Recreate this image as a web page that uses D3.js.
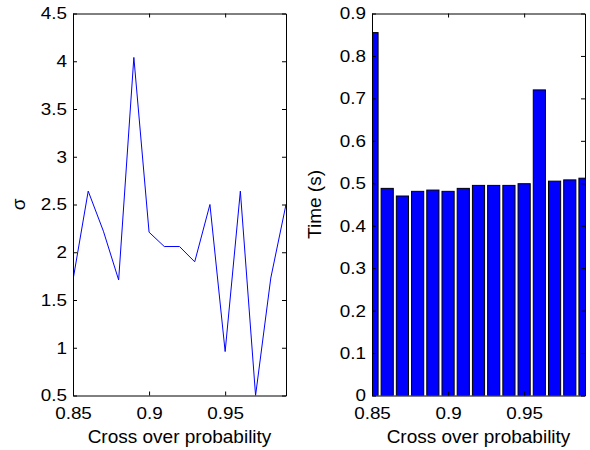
<!DOCTYPE html>
<html>
<head>
<meta charset="utf-8">
<script src="https://cdn.jsdelivr.net/npm/d3@7"></script>
<style>
  html, body { margin: 0; padding: 0; background: #fff; }
  svg { display: block; }
  text { font-family: Arial, "Liberation Sans", sans-serif; fill: #000; }
  /* tick numbers are set slightly wide */
  .xaxis text { transform-box: fill-box; transform-origin: center; transform: scaleX(1.11); }
  .yaxis text { transform-box: fill-box; transform-origin: right center; transform: scaleX(1.11); }
</style>
</head>
<body>
<svg id="chart" width="590" height="450"></svg>
<script>
// Crossover probabilities tested
const crossover = [0.85, 0.86, 0.87, 0.88, 0.89, 0.90, 0.91, 0.92, 0.93, 0.94, 0.95, 0.96, 0.97, 0.98, 0.99];
// Standard deviation of the result for each probability
const sigma = [1.71, 2.64, 2.22, 1.71, 4.04, 2.21, 2.06, 2.06, 1.90, 2.50, 0.96, 2.64, 0.50, 1.73, 2.50];
// Run time in seconds for each probability
const runTime = [0.855, 0.488, 0.470, 0.481, 0.484, 0.481, 0.488, 0.495, 0.495, 0.495, 0.499, 0.720, 0.505, 0.508, 0.512];

// Tick values
const xTicks = [0.85, 0.9, 0.95];
const sigmaTicks = [0.5, 1, 1.5, 2, 2.5, 3, 3.5, 4, 4.5];
const timeTicks = [0, 0.1, 0.2, 0.3, 0.4, 0.5, 0.6, 0.7, 0.8, 0.9];

const xLabel = "Cross over probability";
const sigmaLabel = "\u03c3";
const timeLabel = "Time (s)";

const svg = d3.select("#chart");
const tickFont = 17;
const labelFont = 19;
const plotTop = 13.5, plotBottom = 395.5;

function panel(id, left, right, yDomain, yTicks, yLabel, yLabelX) {
  const g = svg.append("g").attr("id", id);
  const x = d3.scaleLinear().domain([0.85, 0.99]).range([left, right]);
  const y = d3.scaleLinear().domain(yDomain).range([plotBottom, plotTop]);

  g.append("clipPath").attr("id", id + "-clip")
    .append("rect")
    .attr("x", left).attr("y", plotTop)
    .attr("width", right - left).attr("height", plotBottom - plotTop);

  const plot = g.append("g").attr("clip-path", `url(#${id}-clip)`);

  const fmt = d => String(d);
  const styleAxis = sel => {
    sel.selectAll("path.domain").attr("stroke", "#000").attr("stroke-width", 1);
    sel.selectAll(".tick line").attr("stroke", "#000").attr("stroke-width", 1);
    sel.selectAll("text").attr("font-size", tickFont).attr("font-family", "Arial, 'Liberation Sans', sans-serif").attr("fill", "#000");
  };

  return { g, x, y, plot, finish: () => {
    g.append("g").attr("class", "xaxis").attr("transform", `translate(0,${plotBottom})`)
      .call(d3.axisBottom(x).tickValues(xTicks).tickFormat(fmt).tickSizeInner(-4).tickSizeOuter(0).tickPadding(11))
      .call(styleAxis);
    g.append("g").attr("transform", `translate(0,${plotTop})`)
      .call(d3.axisTop(x).tickValues(xTicks).tickFormat("").tickSizeInner(-4).tickSizeOuter(0))
      .call(styleAxis);
    g.append("g").attr("class", "yaxis").attr("transform", `translate(${left},0)`)
      .call(d3.axisLeft(y).tickValues(yTicks).tickFormat(fmt).tickSizeInner(-4).tickSizeOuter(0).tickPadding(6))
      .call(styleAxis);
    g.append("g").attr("transform", `translate(${right},0)`)
      .call(d3.axisRight(y).tickValues(yTicks).tickFormat("").tickSizeInner(-4).tickSizeOuter(0))
      .call(styleAxis);

    g.append("text")
      .attr("x", (left + right) / 2).attr("y", 443)
      .attr("text-anchor", "middle").attr("font-size", labelFont)
      .text(xLabel);
    g.append("text")
      .attr("transform", `translate(${yLabelX},${(plotTop + plotBottom) / 2}) rotate(-90)`)
      .attr("text-anchor", "middle").attr("font-size", labelFont)
      .text(yLabel);
  }};
}

// Left: sigma line
const p1 = panel("sigma", 73, 286, [0.5, 4.5], sigmaTicks, sigmaLabel, 25);
p1.plot.append("path")
  .datum(crossover.map((c, i) => [c, sigma[i]]))
  .attr("fill", "none")
  .attr("stroke", "#0000ff")
  .attr("stroke-width", 1)
  .attr("d", d3.line().x(d => p1.x(d[0])).y(d => p1.y(d[1])));
p1.finish();

// Right: run time bars
const p2 = panel("time", 372, 585, [0, 0.9], timeTicks, timeLabel, 321);
const barW = (p2.x(0.86) - p2.x(0.85)) * 0.8;
p2.plot.selectAll("rect.bar")
  .data(crossover.map((c, i) => ({ c, t: runTime[i] })))
  .join("rect")
  .attr("class", "bar")
  .attr("x", d => p2.x(d.c) - barW / 2)
  .attr("width", barW)
  .attr("y", d => p2.y(d.t))
  .attr("height", d => p2.y(0) - p2.y(d.t))
  .attr("fill", "#0000ff")
  .attr("stroke", "#000")
  .attr("stroke-width", 1);
p2.finish();
</script>
</body>
</html>
